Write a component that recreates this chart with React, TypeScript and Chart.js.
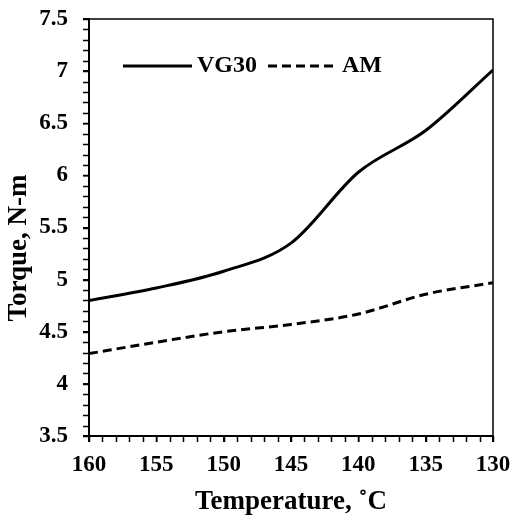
import React, { useEffect, useRef } from "react";
import { Chart, registerables } from "chart.js";

Chart.register(...registerables);

// ---- data ----
const temperatures = [160, 155, 150, 145, 140, 135, 130];
const vg30Torque = [4.8, 4.92, 5.08, 5.35, 6.03, 6.43, 7.01];
const amTorque = [4.29, 4.4, 4.5, 4.57, 4.67, 4.86, 4.97];
const seriesLabels = ["VG30", "AM"];
const xTicks = [130, 135, 140, 145, 150, 155, 160];
const yTicks = [3.5, 4, 4.5, 5, 5.5, 6, 6.5, 7, 7.5];
const xMinorStep = 1;
const yMinorStep = 0.1;
const xTitle = "Temperature, ˚C";
const yTitle = "Torque, N-m";

const FONT = "'Liberation Serif', 'Times New Roman', serif";

const framePlugin = {
  id: "frame",
  afterDraw(chart: any) {
    const { ctx, chartArea } = chart;
    const xs = chart.scales.x;
    const ys = chart.scales.y;
    ctx.save();
    ctx.strokeStyle = "#000";
    // top & right frame
    ctx.lineWidth = 1.5;
    ctx.beginPath();
    ctx.moveTo(chartArea.left, chartArea.top);
    ctx.lineTo(chartArea.right, chartArea.top);
    ctx.lineTo(chartArea.right, chartArea.bottom);
    ctx.stroke();
    // minor ticks
    ctx.lineWidth = 1.5;
    ctx.beginPath();
    const xMin = Math.min(xTicks[0], xTicks[xTicks.length - 1]);
    const xMax = Math.max(xTicks[0], xTicks[xTicks.length - 1]);
    for (let v = xMin; v <= xMax + 1e-9; v += xMinorStep) {
      const px = Math.round(xs.getPixelForValue(v)) + 0.5;
      ctx.moveTo(px, chartArea.bottom);
      ctx.lineTo(px, chartArea.bottom + 6);
    }
    const yMin = yTicks[0];
    const yMax = yTicks[yTicks.length - 1];
    const n = Math.round((yMax - yMin) / yMinorStep);
    for (let i = 0; i <= n; i++) {
      const v = yMin + i * yMinorStep;
      const py = Math.round(ys.getPixelForValue(v)) + 0.5;
      ctx.moveTo(chartArea.left - 6, py);
      ctx.lineTo(chartArea.left, py);
    }
    ctx.stroke();
    // y title
    ctx.fillStyle = "#000";
    ctx.font = `bold 27px ${FONT}`;
    ctx.textAlign = "center";
    ctx.textBaseline = "middle";
    ctx.translate(19, (chartArea.top + chartArea.bottom) / 2 + 20.5);
    ctx.rotate(-Math.PI / 2);
    ctx.fillText(yTitle, 0, 0);
    ctx.restore();
  },
};

const legendPlugin = {
  id: "inlineLegend",
  afterDatasetsDraw(chart: any) {
    const { ctx, chartArea } = chart;
    ctx.save();
    ctx.font = `bold 24px ${FONT}`;
    ctx.textBaseline = "middle";
    ctx.textAlign = "left";
    let x = chartArea.left + 34;
    const y = chartArea.top + 47;
    chart.data.datasets.forEach((ds: any) => {
      ctx.strokeStyle = ds.borderColor;
      ctx.lineWidth = ds.borderWidth;
      ctx.setLineDash(ds.borderDash || []);
      ctx.beginPath();
      ctx.moveTo(x, y);
      ctx.lineTo(x + 69, y);
      ctx.stroke();
      ctx.setLineDash([]);
      x += 74;
      ctx.fillStyle = "#000";
      ctx.fillText(ds.label, x, y);
      x += ctx.measureText(ds.label).width + 11;
    });
    ctx.restore();
  },
};

export default function App() {
  const ref = useRef<HTMLCanvasElement>(null);
  useEffect(() => {
    if (!ref.current) return;
    const chart = new Chart(ref.current, {
      type: "line",
      data: {
        datasets: [
          {
            label: seriesLabels[0],
            data: temperatures.map((t, i) => ({ x: t, y: vg30Torque[i] })),
            borderColor: "#000",
            borderWidth: 3,
            pointRadius: 0,
            fill: false,
            cubicInterpolationMode: "monotone",
          },
          {
            label: seriesLabels[1],
            data: temperatures.map((t, i) => ({ x: t, y: amTorque[i] })),
            borderColor: "#000",
            borderWidth: 3,
            borderDash: [9, 5],
            pointRadius: 0,
            fill: false,
            cubicInterpolationMode: "monotone",
          },
        ],
      },
      options: {
        responsive: false,
        animation: false,
        layout: { padding: { top: 19, right: 20, left: 0, bottom: 0 } },
        plugins: {
          legend: { display: false },
          tooltip: { enabled: false },
        },
        scales: {
          x: {
            type: "linear",
            reverse: true,
            min: 130,
            max: 160,
            afterBuildTicks: (scale: any) => {
              scale.ticks = xTicks.map((v) => ({ value: v }));
            },
            afterFit: (scale: any) => {
              scale.height = 82;
              scale.paddingLeft = 0;
              scale.paddingRight = 0;
            },
            ticks: {
              color: "#000",
              font: { family: FONT, size: 23, weight: "bold" },
              padding: 9,
              maxRotation: 0,
              autoSkip: false,
            },
            grid: {
              drawOnChartArea: false,
              drawTicks: true,
              tickLength: 6,
              color: "#000",
              lineWidth: 1.5,
            },
            border: { display: true, color: "#000", width: 2 },
            title: {
              display: true,
              text: xTitle,
              color: "#000",
              font: { family: FONT, size: 27, weight: "bold" },
              padding: { top: 0, bottom: 0 },
            },
          },
          y: {
            type: "linear",
            min: 3.5,
            max: 7.5,
            afterBuildTicks: (scale: any) => {
              scale.ticks = yTicks.map((v) => ({ value: v }));
            },
            afterFit: (scale: any) => {
              scale.width = 89;
              scale.paddingTop = 0;
              scale.paddingBottom = 0;
            },
            ticks: {
              color: "#000",
              font: { family: FONT, size: 23, weight: "bold" },
              padding: 15,
              autoSkip: false,
              callback: (v: any) => String(Number(v)),
            },
            grid: {
              drawOnChartArea: false,
              drawTicks: true,
              tickLength: 6,
              color: "#000",
              lineWidth: 1.5,
            },
            border: { display: true, color: "#000", width: 2 },
          },
        },
      },
      plugins: [framePlugin, legendPlugin],
    } as any);
    return () => chart.destroy();
  }, []);

  return (
    <div style={{ position: "fixed", left: 0, top: 0, width: 513, height: 518, background: "#fff" }}>
      <canvas ref={ref} width={513} height={518} />
    </div>
  );
}
